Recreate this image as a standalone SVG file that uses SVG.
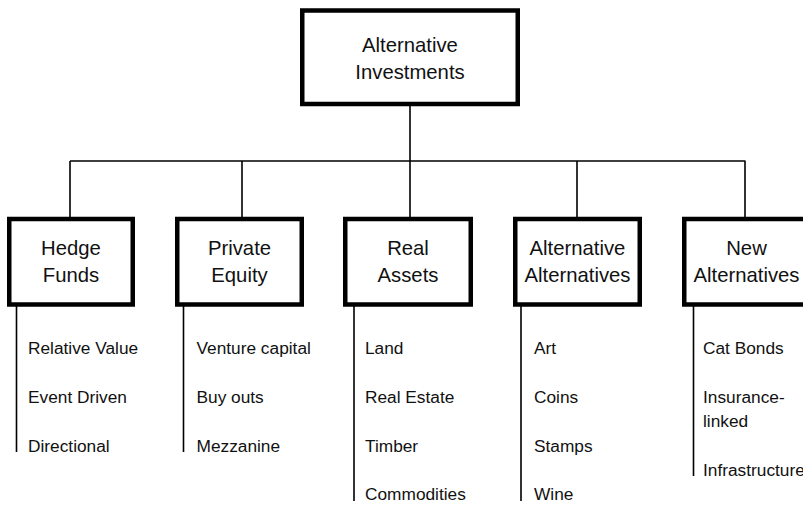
<svg xmlns="http://www.w3.org/2000/svg" width="803" height="507" viewBox="0 0 803 507">
  <style>
    .box { fill: #ffffff; stroke: #000000; stroke-width: 4.5; }
    .wire { fill: none; stroke: #000000; stroke-width: 1.6; }
    .title { font-family: "Liberation Sans", Arial, sans-serif; font-size: 20.3px; fill: #111111; text-anchor: middle; }
    .item { font-family: "Liberation Sans", Arial, sans-serif; font-size: 17.3px; fill: #111111; }
  </style>
  <rect width="803" height="507" fill="#ffffff"/>

  <!-- tree connectors and item rails -->
  <g id="connectors">
    <path class="wire" d="M410 106 V161 M70 161 H745.5 M70 161 V217 M242 161 V217 M410 161 V217 M577 161 V217 M745 161 V217"/>
    <path class="wire" d="M16.5 306 V452 M183.5 306 V452 M354 306 V501 M521 306 V501 M693.5 306 V476"/>
  </g>

  <g id="root">
    <rect class="box" x="302.25" y="10.5" width="215.5" height="93.5"/>
    <text class="title" x="410" y="52">Alternative</text>
    <text class="title" x="410" y="79">Investments</text>
  </g>

  <g id="hedge-funds">
    <rect class="box" x="9.25" y="219" width="123.5" height="85.5"/>
    <text class="title" x="71" y="255">Hedge</text>
    <text class="title" x="71" y="282">Funds</text>
    <text class="item" x="28" y="354">Relative Value</text>
    <text class="item" x="28" y="403">Event Driven</text>
    <text class="item" x="28" y="452">Directional</text>
  </g>

  <g id="private-equity">
    <rect class="box" x="177.25" y="219" width="124.5" height="85.5"/>
    <text class="title" x="239.5" y="255">Private</text>
    <text class="title" x="239.5" y="282">Equity</text>
    <text class="item" x="196.5" y="354">Venture capital</text>
    <text class="item" x="196.5" y="403">Buy outs</text>
    <text class="item" x="196.5" y="452">Mezzanine</text>
  </g>

  <g id="real-assets">
    <rect class="box" x="345.25" y="219" width="125.5" height="85.5"/>
    <text class="title" x="408" y="255">Real</text>
    <text class="title" x="408" y="282">Assets</text>
    <text class="item" x="365" y="354">Land</text>
    <text class="item" x="365" y="403">Real Estate</text>
    <text class="item" x="365" y="452">Timber</text>
    <text class="item" x="365" y="500">Commodities</text>
  </g>

  <g id="alternative-alternatives">
    <rect class="box" x="515.25" y="219" width="124.5" height="85.5"/>
    <text class="title" x="577.5" y="255">Alternative</text>
    <text class="title" x="577.5" y="282">Alternatives</text>
    <text class="item" x="534" y="354">Art</text>
    <text class="item" x="534" y="403">Coins</text>
    <text class="item" x="534" y="452">Stamps</text>
    <text class="item" x="534" y="500">Wine</text>
  </g>

  <g id="new-alternatives">
    <rect class="box" x="684.25" y="219" width="124.5" height="85.5"/>
    <text class="title" x="746.5" y="255">New</text>
    <text class="title" x="746.5" y="282">Alternatives</text>
    <text class="item" x="703" y="354">Cat Bonds</text>
    <text class="item" x="703" y="403">Insurance-</text>
    <text class="item" x="703" y="427">linked</text>
    <text class="item" x="703" y="476">Infrastructure</text>
  </g>
</svg>
